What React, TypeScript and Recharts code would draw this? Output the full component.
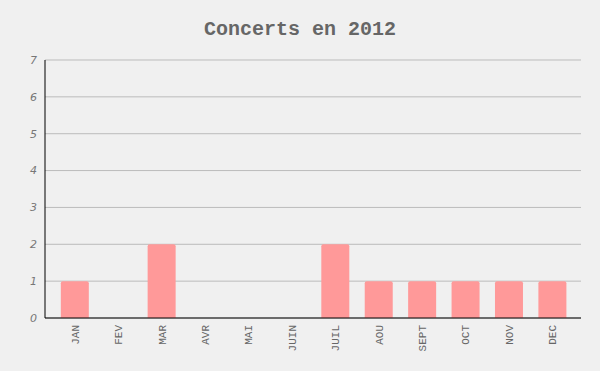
import { Bar, BarChart, CartesianGrid, XAxis, YAxis } from "recharts"

const months = ["JAN", "FEV", "MAR", "AVR", "MAI", "JUIN", "JUIL", "AOU", "SEPT", "OCT", "NOV", "DEC"]
const concerts = [1, 0, 2, 0, 0, 0, 2, 1, 1, 1, 1, 1]
const yTicks = [0, 1, 2, 3, 4, 5, 6, 7]

const data = months.map((m, i) => ({ name: m, concerts: concerts[i] }))

const MonthTick = (props: any) => {
  const { x, y, payload } = props
  return (
    <text
      x={x}
      y={y}
      transform={`rotate(-90, ${x}, ${y})`}
      dx={1}
      dy={4}
      textAnchor="end"
      fill="#666"
      fontSize={11}
      fontFamily="'Liberation Mono', monospace"
    >
      {payload.value}
    </text>
  )
}

export default function App() {
  return (
    <div style={{ position: "absolute", left: 0, top: 0, width: 600, height: 371, background: "#f0f0f0" }}>
      <div
        style={{
          position: "absolute",
          top: 18,
          left: 0,
          width: 600,
          textAlign: "center",
          fontFamily: "'Liberation Mono', monospace",
          fontWeight: "bold",
          fontSize: 20,
          color: "#666",
        }}
      >
        Concerts en 2012
      </div>
      <BarChart
        width={600}
        height={371}
        data={data}
        margin={{ top: 60, right: 19, bottom: 0, left: 5 }}
        barCategoryGap="18%"
      >
        <CartesianGrid vertical={false} stroke="#bbb" />
        <XAxis
          dataKey="name"
          axisLine={{ stroke: "#000" }}
          tickLine={false}
          tick={<MonthTick />}
          interval={0}
          padding={{ left: 8, right: 7 }}
          height={53}
        />
        <YAxis
          domain={[0, 7]}
          ticks={yTicks}
          width={40}
          axisLine={{ stroke: "#000" }}
          tickLine={false}
          tick={{ fill: "#777", fontSize: 11, fontStyle: "italic", fontFamily: "'DejaVu Sans', sans-serif" }}
          tickMargin={2}
        />
        <Bar dataKey="concerts" fill="#ff9999" radius={[2, 2, 0, 0]} isAnimationActive={false} />
      </BarChart>
    </div>
  )
}
